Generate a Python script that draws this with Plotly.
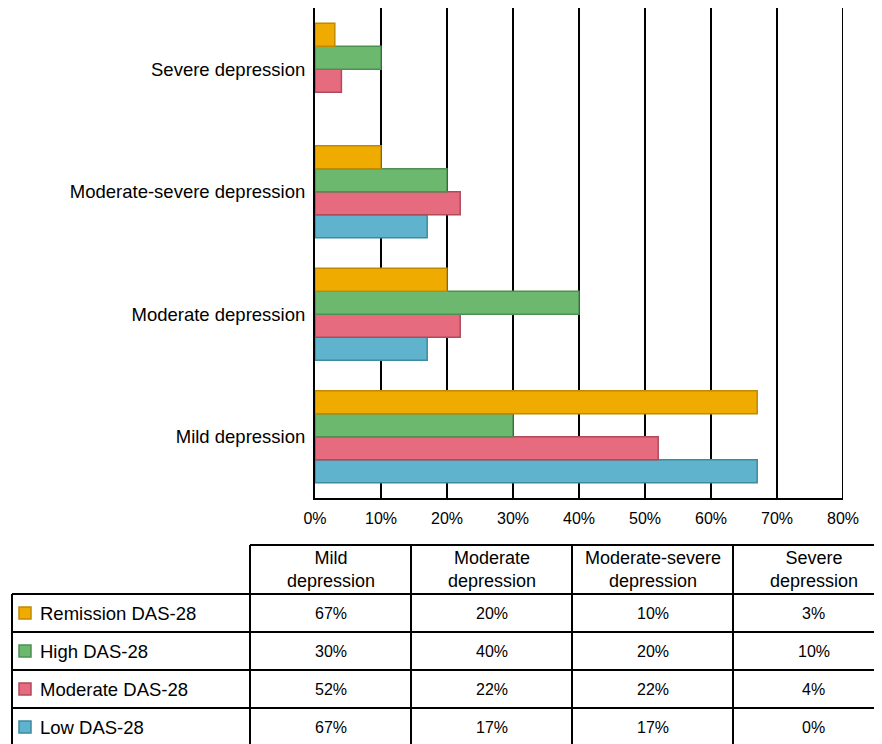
import plotly.graph_objects as go

# ---- data ----
categories = ["Mild depression", "Moderate depression", "Moderate-severe depression", "Severe depression"]
header_labels = ["Mild<br>depression", "Moderate<br>depression", "Moderate-severe<br>depression", "Severe<br>depression"]
series_names = ["Remission DAS-28", "High DAS-28", "Moderate DAS-28", "Low DAS-28"]
remission = [67, 20, 10, 3]
high = [30, 40, 20, 10]
moderate = [52, 22, 22, 4]
low = [67, 17, 17, 0]
x_ticks = [0, 10, 20, 30, 40, 50, 60, 70, 80]

# ---- styles ----
fills = {"Remission DAS-28": "#F0AB00", "High DAS-28": "#6DB86F",
         "Moderate DAS-28": "#E66B7E", "Low DAS-28": "#5FB3CD"}
edges = {"Remission DAS-28": "#C08A00", "High DAS-28": "#4E8F52",
         "Moderate DAS-28": "#B04A5B", "Low DAS-28": "#3D8BA0"}
values = {"Remission DAS-28": remission, "High DAS-28": high,
          "Moderate DAS-28": moderate, "Low DAS-28": low}

FONT = "Liberation Sans, Arial, Helvetica, sans-serif"
OFF = 8  # page body margin
W, H = 882, 744 - OFF
L, T = 315 - OFF, 0
PW, PH = 528, 490
R, B = W - L - PW, H - T - PH

fig = go.Figure()
# plotly places first trace at bottom of group -> add in reverse
for name in reversed(series_names):
    vals = values[name]
    fig.add_trace(go.Bar(
        y=categories, x=vals, orientation="h", name=name,
        marker=dict(color=fills[name],
                    line=dict(color=edges[name], width=[1.5 if v > 0 else 0 for v in vals])),
        showlegend=False, hoverinfo="x+y"))

fig.update_layout(
    width=W, height=H, margin=dict(l=L, r=R, t=T, b=B, pad=0),
    paper_bgcolor="white", plot_bgcolor="white",
    barmode="group", bargap=0.25, bargroupgap=0,
    font=dict(family=FONT, color="black"),
    xaxis=dict(range=[0, 80], tickvals=x_ticks, ticktext=[f"{v}%" for v in x_ticks],
               showgrid=True, gridcolor="black", gridwidth=2,
               showline=True, linecolor="black", linewidth=2,
               zeroline=False, tickfont=dict(size=16), ticks="outside",
               ticklen=5, tickcolor="white", fixedrange=True),
    yaxis=dict(categoryorder="array", categoryarray=categories,
               showline=True, linecolor="black", linewidth=2,
               showgrid=False, zeroline=False, tickfont=dict(size=18.5),
               ticks="outside", ticklen=4, tickcolor="white", fixedrange=True),
)
# right border at 80%
fig.add_shape(type="line", xref="x", yref="paper", x0=80, x1=80, y0=0, y1=1,
              line=dict(color="black", width=2))

# ---- table drawn beneath (positions in reference page pixels) ----
def px(xp):
    return (xp - OFF - L) / PW

def py(yp):
    return (T + PH - (yp - OFF)) / PH

col_x = [12, 250, 411, 572, 733, 894]
row_y = [545, 594, 632, 670, 708, 746]
lw = dict(color="black", width=2)

shapes = []
shapes.append(dict(type="line", xref="paper", yref="paper",
                   x0=px(col_x[1]), x1=px(col_x[-1]), y0=py(row_y[0]), y1=py(row_y[0]), line=lw))
for yy in row_y[1:]:
    shapes.append(dict(type="line", xref="paper", yref="paper",
                       x0=px(col_x[0]), x1=px(col_x[-1]), y0=py(yy), y1=py(yy), line=lw))
shapes.append(dict(type="line", xref="paper", yref="paper",
                   x0=px(col_x[0]), x1=px(col_x[0]), y0=py(row_y[1]), y1=py(row_y[-1]), line=lw))
for xx in col_x[1:]:
    shapes.append(dict(type="line", xref="paper", yref="paper",
                       x0=px(xx), x1=px(xx), y0=py(row_y[0]), y1=py(row_y[-1]), line=lw))

annotations = []
for j, lab in enumerate(header_labels):
    cx = (col_x[j + 1] + col_x[j + 2]) / 2
    cy = (row_y[0] + row_y[1]) / 2
    annotations.append(dict(text=lab, x=px(cx), y=py(cy), xref="paper", yref="paper",
                            showarrow=False, font=dict(size=18), xanchor="center", yanchor="middle"))

for i, name in enumerate(series_names):
    cy = (row_y[i + 1] + row_y[i + 2]) / 2
    shapes.append(dict(type="rect", xref="paper", yref="paper",
                       x0=px(19), x1=px(31), y0=py(cy - 6), y1=py(cy + 6),
                       fillcolor=fills[name], line=dict(color=edges[name], width=1.5)))
    annotations.append(dict(text=name, x=px(38), y=py(cy), xref="paper", yref="paper",
                            showarrow=False, font=dict(size=18.5), xanchor="left", yanchor="middle"))
    for j, v in enumerate(values[name]):
        cx = (col_x[j + 1] + col_x[j + 2]) / 2
        annotations.append(dict(text=f"{v}%", x=px(cx), y=py(cy), xref="paper", yref="paper",
                                showarrow=False, font=dict(size=16), xanchor="center", yanchor="middle"))

fig.update_layout(shapes=fig.layout.shapes + tuple(shapes), annotations=annotations)

fig.write_html("out.html")
